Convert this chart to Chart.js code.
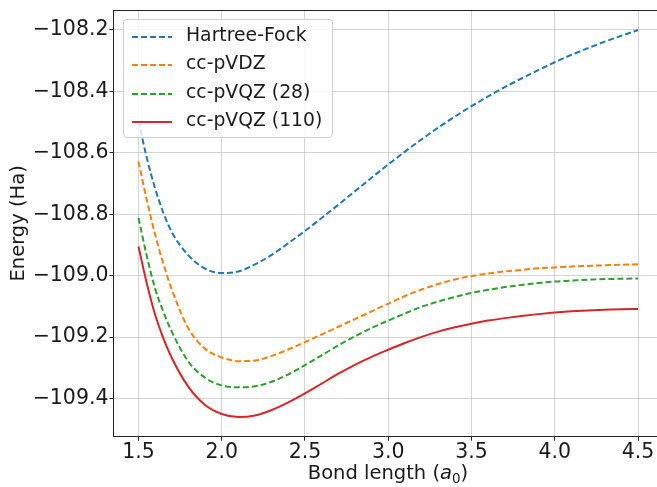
<!DOCTYPE html>
<html>
<head>
<meta charset="utf-8">
<script src="https://cdn.jsdelivr.net/npm/chart.js@4/dist/chart.umd.min.js"></script>
<style>
  html, body { margin: 0; padding: 0; background: #fff; }
  #wrap { position: relative; width: 657px; height: 487px; overflow: hidden; font-family: 'DejaVu Sans', sans-serif; }
  #plot { position: absolute; left: 0; top: 0; }
  .legend {
    position: absolute; left: 123px; top: 19px; width: 208px; height: 117px;
    background: rgba(255, 255, 255, 0.8); border: 1px solid #d0d0d0; border-radius: 4px;
  }
  .legend-row { position: absolute; left: 0; height: 28px; width: 100%; }
  .legend-row svg { position: absolute; left: 7px; top: 13px; }
  .legend-row span { position: absolute; left: 62px; top: 2px; font-size: 18.8px; color: #1a1a1a; white-space: nowrap; }
  .xtitle { position: absolute; top: 461px; left: 388px; transform: translateX(-50%); font-size: 19.5px; color: #1a1a1a; white-space: nowrap; }
  .xtitle sub { font-size: 13.5px; vertical-align: -4px; line-height: 0; }
</style>
</head>
<body>
<div id="wrap">
  <canvas id="plot" width="657" height="487"></canvas>
  <div class="legend" id="legend"></div>
  <div class="xtitle">Bond length (<i>a</i><sub>0</sub>)</div>
</div>
<script>
/* 鍵長 (a0) 與各方法能量 (Ha)，數值由圖上估讀 */
var bondLength = [1.5, 1.55, 1.6, 1.65, 1.7, 1.8, 1.9, 2.0, 2.1, 2.2, 2.3, 2.4, 2.5, 2.6, 2.7, 2.8, 2.9,
  3.0, 3.1, 3.2, 3.3, 3.4, 3.5, 3.6, 3.7, 3.8, 3.9, 4.0, 4.1, 4.2, 4.3, 4.4, 4.5];

var hartreeFock = [-108.496, -108.616, -108.716, -108.796, -108.858, -108.934, -108.977, -108.991, -108.986,
  -108.963, -108.932, -108.894, -108.854, -108.812, -108.769, -108.725, -108.681,
  -108.638, -108.596, -108.556, -108.518, -108.482, -108.448, -108.416, -108.386, -108.358,
  -108.331, -108.305, -108.281, -108.259, -108.238, -108.219, -108.200];

var ccPVDZ = [-108.628, -108.754, -108.866, -108.962, -109.045, -109.172, -109.238, -109.266, -109.278,
  -109.276, -109.261, -109.240, -109.216, -109.191, -109.166, -109.141, -109.116,
  -109.091, -109.066, -109.045, -109.027, -109.012, -109.001, -108.993, -108.986, -108.981,
  -108.976, -108.973, -108.970, -108.968, -108.966, -108.964, -108.963];

var ccPVQZ28 = [-108.812, -108.936, -109.042, -109.118, -109.182, -109.280, -109.332, -109.357, -109.363,
  -109.360, -109.345, -109.321, -109.291, -109.259, -109.227, -109.197, -109.170,
  -109.146, -109.123, -109.101, -109.084, -109.069, -109.056, -109.046, -109.037, -109.030,
  -109.024, -109.019, -109.016, -109.013, -109.011, -109.010, -109.009];

var ccPVQZ110 = [-108.905, -109.025, -109.127, -109.205, -109.268, -109.362, -109.421, -109.450, -109.460,
  -109.455, -109.437, -109.412, -109.383, -109.351, -109.319, -109.290, -109.264,
  -109.241, -109.219, -109.199, -109.182, -109.168, -109.156, -109.146, -109.138, -109.131,
  -109.125, -109.120, -109.116, -109.113, -109.111, -109.109, -109.108];

var seriesNames = ['Hartree-Fock', 'cc-pVDZ', 'cc-pVQZ (28)', 'cc-pVQZ (110)'];
var xTicks = [1.5, 2.0, 2.5, 3.0, 3.5, 4.0, 4.5];
var yTicks = [-109.4, -109.2, -109.0, -108.8, -108.6, -108.4, -108.2];

(function () {
  'use strict';

  var FONT = 'DejaVu Sans';
  var series = [
    { name: seriesNames[0], data: hartreeFock, color: '#1f77b4', dash: [6, 3] },
    { name: seriesNames[1], data: ccPVDZ, color: '#ff7f0e', dash: [6, 3] },
    { name: seriesNames[2], data: ccPVQZ28, color: '#2ca02c', dash: [6, 3] },
    { name: seriesNames[3], data: ccPVQZ110, color: '#d62728', dash: [] },
  ];

  function pts(arr) {
    return bondLength.map(function (x, i) { return { x: x, y: arr[i] }; });
  }

  function fmt(v) {
    return (v < 0 ? '\u2212' : '') + Math.abs(v).toFixed(1);
  }

  /* 上框線 */
  var topSpine = {
    id: 'topSpine',
    afterDraw: function (c) {
      var a = c.chartArea, ctx = c.ctx;
      ctx.save();
      ctx.strokeStyle = '#222';
      ctx.lineWidth = 1;
      ctx.beginPath();
      ctx.moveTo(a.left, Math.round(a.top) + 0.5);
      ctx.lineTo(a.right, Math.round(a.top) + 0.5);
      ctx.stroke();
      ctx.restore();
    }
  };

  new Chart(document.getElementById('plot').getContext('2d'), {
    type: 'line',
    data: {
      datasets: series.map(function (s) {
        return {
          label: s.name, data: pts(s.data), borderColor: s.color, backgroundColor: s.color,
          borderWidth: 2, borderDash: s.dash, pointRadius: 0, fill: false,
          cubicInterpolationMode: 'monotone',
        };
      }),
    },
    options: {
      responsive: false, animation: false, devicePixelRatio: 1,
      layout: { padding: { top: 10, left: 0, right: 0, bottom: 0 } },
      plugins: { legend: { display: false }, tooltip: { enabled: false } },
      scales: {
        x: {
          type: 'linear', min: 1.35, max: 4.614,
          afterBuildTicks: function (s) { s.ticks = xTicks.map(function (v) { return { value: v }; }); },
          afterFit: function (s) { s.height = 50.3; s.paddingLeft = 0; s.paddingRight = 0; },
          ticks: { callback: function (v) { return v.toFixed(1); }, color: '#1a1a1a', font: { family: FONT, size: 20.5 }, padding: 0, maxRotation: 0 },
          grid: { color: 'rgba(176,176,176,0.55)', lineWidth: 1, tickColor: '#222', tickLength: 4 },
          border: { color: '#222', width: 1 },
        },
        y: {
          type: 'linear', min: -109.524, max: -108.135,
          afterBuildTicks: function (s) { s.ticks = yTicks.map(function (v) { return { value: v }; }); },
          afterFit: function (s) { s.width = 113.5; s.paddingTop = 0; s.paddingBottom = 0; },
          ticks: { callback: fmt, color: '#1a1a1a', font: { family: FONT, size: 20.5 }, padding: 1 },
          grid: { color: 'rgba(176,176,176,0.55)', lineWidth: 1, tickColor: '#222', tickLength: 4 },
          border: { color: '#222', width: 1 },
          title: { display: true, text: 'Energy (Ha)', color: '#1a1a1a', font: { family: FONT, size: 19.5 }, padding: { top: 7, bottom: 0 } },
        },
      },
    },
    plugins: [topSpine],
  });

  /* 圖例(HTML) */
  var box = document.getElementById('legend');
  series.forEach(function (s, i) {
    var row = document.createElement('div');
    row.className = 'legend-row';
    row.style.top = (2 + i * 28.3) + 'px';
    row.innerHTML = '<svg width="42" height="4"><line x1="1" y1="2" x2="41" y2="2" stroke="' + s.color +
      '" stroke-width="2" stroke-dasharray="' + (s.dash.length ? s.dash.join(',') : 'none') + '"/></svg>' +
      '<span>' + s.name + '</span>';
    box.appendChild(row);
  });
})();
</script>
</body>
</html>
